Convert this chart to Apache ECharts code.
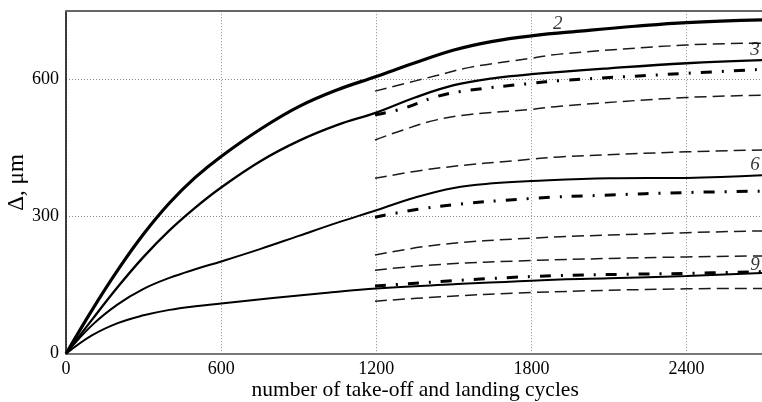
<!DOCTYPE html>
<html>
<head>
<meta charset="utf-8">
<script src="https://cdn.jsdelivr.net/npm/echarts@6/dist/echarts.min.js"></script>
<style>
html,body{margin:0;padding:0;background:#fff;}
#chart{width:762px;height:402px;}
</style>
</head>
<body>
<div id="chart"></div>
<script>
// ---- data ----
var xTicks = [0, 600, 1200, 1800, 2400];
var yTicks = [0, 300, 600];

// solid curves from origin
var c2X = [0, 100, 200, 300, 400, 500, 600, 750, 900, 1050, 1200, 1350, 1500, 1650, 1800, 2000, 2200, 2400, 2700];
var c2Y = [0, 95, 183, 262, 330, 386, 432, 491, 541, 578, 607, 637, 665, 684, 696, 707, 717, 725, 731];

var c3X = [0, 100, 200, 300, 400, 500, 600, 750, 900, 1050, 1200, 1350, 1500, 1650, 1800, 2100, 2400, 2700];
var c3Y = [0, 74, 146, 212, 270, 320, 364, 421, 466, 501, 528, 561, 588, 603, 612, 625, 636, 643];

var c6X = [0, 100, 200, 300, 400, 500, 600, 750, 900, 1050, 1200, 1350, 1500, 1650, 1800, 2100, 2400, 2700];
var c6Y = [0, 62, 108, 142, 166, 185, 202, 229, 258, 287, 314, 342, 363, 373, 378, 384, 385, 391];

var c9X = [0, 100, 200, 300, 400, 500, 600, 800, 1000, 1200, 1500, 1800, 2100, 2400, 2700];
var c9Y = [0, 40, 67, 84, 96, 104, 110, 122, 133, 143, 152, 160, 165, 170, 177];

// dash-dot curves from 1200
var d3X = [1195, 1304, 1433, 1562, 1800, 1910, 2400, 2700];
var d3Y = [523, 537, 563, 577, 592, 598, 614, 623];
var d6X = [1195, 1433, 1800, 2078, 2400, 2700];
var d6Y = [299, 322, 340, 347, 353, 356];
var d9X = [1195, 1800, 2400, 2700];
var d9Y = [148, 169, 176, 180];

// dashed band curves from 1200
var u3X = [1195, 1433, 1562, 1800, 1910, 2400, 2700];
var u3Y = [575, 609, 627, 647, 656, 676, 680];
var l3X = [1195, 1304, 1433, 1562, 1800, 1910, 2400, 2700];
var l3Y = [468, 490, 512, 524, 535, 542, 561, 566];
var u6X = [1195, 1433, 1800, 1910, 2400, 2700];
var u6Y = [384, 406, 426, 431, 442, 446];
var l6X = [1195, 1433, 1800, 2400, 2700];
var l6Y = [216, 238, 253, 265, 269];
var u9X = [1195, 1433, 1800, 2400, 2700];
var u9Y = [183, 195, 204, 212, 214];
var l9X = [1195, 1433, 1800, 2400, 2700];
var l9Y = [115, 124, 134, 142, 143];

// curve number labels
var curveNames = ['2', '3', '6', '9'];
var curveLabelX = [1902, 2664, 2664, 2664];
var curveLabelY = [722, 665, 413, 194];

// ---- chart ----
function zip(xs, ys) { return xs.map(function (x, i) { return [x, ys[i]]; }); }
var FONT = '"Liberation Serif", "DejaVu Serif", serif';

function solid(xs, ys, w) {
  return { type: 'line', data: zip(xs, ys), smooth: 0.4, symbol: 'none',
    lineStyle: { color: '#000', width: w, type: 'solid' }, z: 5 };
}
function dashdot(xs, ys) {
  return { type: 'line', data: zip(xs, ys), smooth: 0.4, symbol: 'none',
    lineStyle: { color: '#000', width: 3, type: [11, 10, 2, 10], cap: 'butt' }, z: 4 };
}
function dashed(xs, ys) {
  return { type: 'line', data: zip(xs, ys), smooth: 0.4, symbol: 'none',
    lineStyle: { color: '#1a1a1a', width: 1.5, type: [12, 6], cap: 'butt' }, z: 3 };
}

var chart = echarts.init(document.getElementById('chart'), null, { renderer: 'canvas' });
chart.setOption({
  animation: false,
  backgroundColor: '#fff',
  grid: { left: 66, top: 11.2, width: 698.2, height: 342.5, containLabel: false, outerBoundsMode: 'none' },
  xAxis: [{
    type: 'value', min: 0, max: 2700, interval: 600,
    name: 'number of take-off and landing cycles', nameLocation: 'middle', nameGap: 26, nameMoveOverlap: false,
    nameTextStyle: { fontFamily: FONT, fontSize: 21.5, color: '#000', verticalAlign: 'top' },
    axisLine: { show: true, lineStyle: { color: '#777', width: 2.2 } },
    axisTick: { show: false },
    axisLabel: { showMaxLabel: false, margin: 7, fontFamily: FONT, fontSize: 18, color: '#000',
      formatter: function (v) { return xTicks.indexOf(v) >= 0 ? String(v) : ''; } },
    splitLine: { show: true, lineStyle: { color: '#888', width: 1, type: [1, 2] } }
  }, {
    type: 'value', position: 'top', min: 0, max: 2700,
    axisLine: { show: true, onZero: false, lineStyle: { color: '#666', width: 2 } },
    axisTick: { show: false }, axisLabel: { show: false }, splitLine: { show: false }
  }],
  yAxis: {
    type: 'value', min: 0, max: 750, interval: 300,
    name: 'Δ, μm', nameLocation: 'middle', nameGap: 38, nameMoveOverlap: false,
    nameTextStyle: { fontFamily: FONT, fontSize: 23, color: '#000' },
    axisLine: { show: true, lineStyle: { color: '#000', width: 1.5 } },
    axisTick: { show: false },
    axisLabel: { showMaxLabel: false, margin: 7, fontFamily: FONT, fontSize: 18, color: '#000',
      formatter: function (v) { return yTicks.indexOf(v) >= 0 ? String(v) : ''; } },
    splitLine: { show: true, lineStyle: { color: '#888', width: 1, type: [1, 2] } }
  },
  series: [
    solid(c2X, c2Y, 3.2),
    solid(c3X, c3Y, 2.3),
    solid(c6X, c6Y, 2),
    solid(c9X, c9Y, 2),
    dashdot(d3X, d3Y),
    dashdot(d6X, d6Y),
    dashdot(d9X, d9Y),
    dashed(u3X, u3Y),
    dashed(l3X, l3Y),
    dashed(u6X, u6Y),
    dashed(l6X, l6Y),
    dashed(u9X, u9Y),
    dashed(l9X, l9Y),
    {
      type: 'scatter', symbolSize: 0, z: 10,
      data: curveNames.map(function (n, i) { return { name: n, value: [curveLabelX[i], curveLabelY[i]] }; }),
      label: { show: true, position: 'inside', formatter: '{b}', fontFamily: FONT, fontStyle: 'italic',
        fontSize: 19, color: '#000' }
    }
  ]
});
</script>
</body>
</html>
